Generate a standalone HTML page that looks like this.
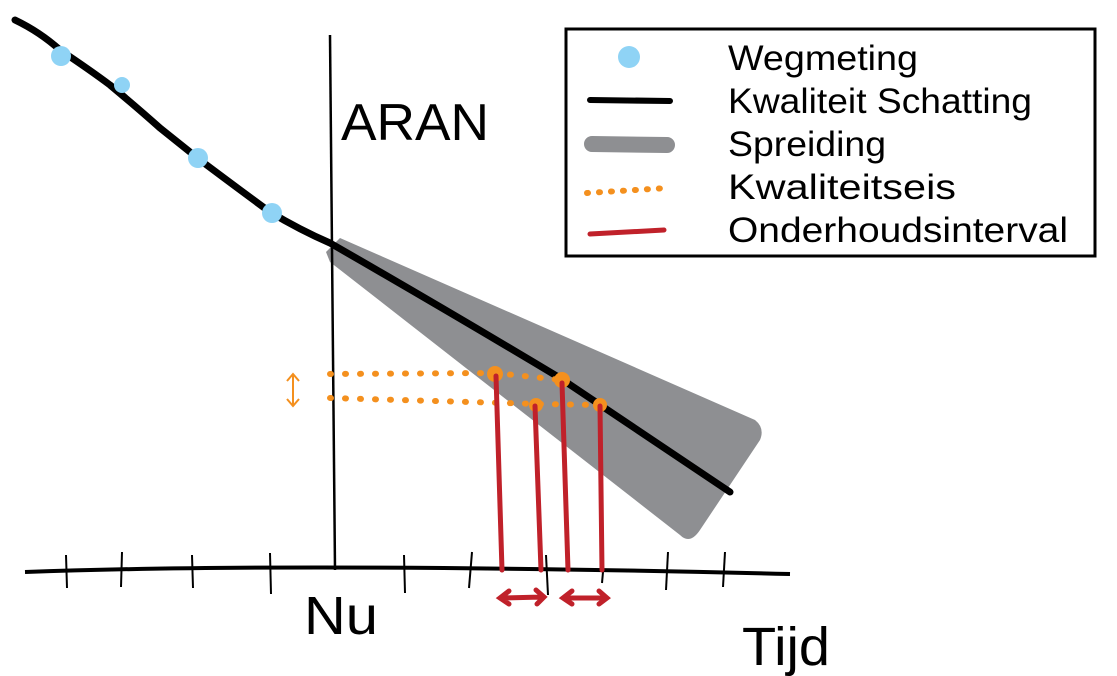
<!DOCTYPE html>
<html><head><meta charset="utf-8"><style>
html,body{margin:0;padding:0;background:#fff;}
svg{display:block}
text{font-family:"Liberation Sans",sans-serif;fill:#000}
</style></head><body>
<svg width="1117" height="676" viewBox="0 0 1117 676" xmlns="http://www.w3.org/2000/svg">
<!-- cone -->
<path d="M326 252 L340 238 L755 420 Q765 428 760 440 L700 530 Q690 545 680 535 L330 262 Z" fill="#8e8f92"/>
<!-- vertical line -->
<line x1="330" y1="35" x2="335" y2="570" stroke="#000" stroke-width="2.5"/>
<!-- axis -->
<path d="M25 572 Q300 562 790 574" stroke="#000" stroke-width="4" fill="none"/>
<g stroke="#000" stroke-width="2">
<line x1="66" y1="555" x2="67" y2="588"/><line x1="122" y1="552" x2="121" y2="587"/>
<line x1="192" y1="555" x2="193" y2="588"/><line x1="270" y1="553" x2="271" y2="594"/>
<line x1="404" y1="555" x2="405" y2="593"/><line x1="472" y1="552" x2="469" y2="588"/>
<line x1="546" y1="555" x2="548" y2="595"/><line x1="603" y1="572" x2="602" y2="583"/>
<line x1="668" y1="552" x2="666" y2="590"/><line x1="725" y1="552" x2="723" y2="587"/>
</g>
<!-- estimate line -->
<path d="M15 20 Q40 32 60 50 Q90 70 110 85 Q140 110 160 128 Q185 148 200 160 Q240 190 270 212 Q300 230 330 243 Q450 312 560 378 L730 492" stroke="#000" stroke-width="7" fill="none" stroke-linecap="round"/>
<g fill="#8fd3f5">
<circle cx="61" cy="56" r="10"/><circle cx="122" cy="85" r="8"/><circle cx="198" cy="158" r="10"/><circle cx="272" cy="213" r="10"/>
</g>
<!-- orange dotted -->
<g stroke="#f4901e" stroke-width="6" stroke-linecap="round" stroke-dasharray="1 14" fill="none">
<path d="M330 374 L495 373 L562 380"/>
<path d="M330 398 L540 404 L600 405"/>
</g>
<g fill="#f4901e">
<circle cx="495" cy="374" r="8"/><circle cx="562" cy="380" r="8"/><circle cx="536" cy="405" r="7"/><circle cx="600" cy="405" r="7"/>
</g>
<path d="M293 375 L293 405 M287 381 L293 374 L299 381 M287 399 L293 406 L299 399" stroke="#f4901e" stroke-width="2" fill="none"/>
<!-- red -->
<g stroke="#c0212a" stroke-width="5" fill="none" stroke-linecap="round">
<path d="M496 376 L502 570"/><path d="M535 406 L541 570"/><path d="M562 383 L568 570"/><path d="M600 406 L602 570"/>
<path d="M500 598 L543 597 M509 591 L500 598 L509 604 M536 590 L544 597 L537 604"/>
<path d="M563 598 L606 598 M572 591 L563 598 L572 604 M599 591 L607 598 L599 604"/>
</g>
<!-- labels -->
<text x="341" y="140" font-size="52" textLength="148" lengthAdjust="spacingAndGlyphs">ARAN</text>
<text x="304" y="634" font-size="54" textLength="74" lengthAdjust="spacingAndGlyphs">Nu</text>
<text x="742" y="665" font-size="54" textLength="88" lengthAdjust="spacingAndGlyphs">Tijd</text>
<!-- legend -->
<rect x="566" y="29" width="529" height="227" fill="#fff" stroke="#000" stroke-width="3"/>
<circle cx="629" cy="57" r="11" fill="#8fd3f5"/>
<line x1="590" y1="100" x2="670" y2="101" stroke="#000" stroke-width="6" stroke-linecap="round"/>
<line x1="592" y1="144" x2="667" y2="145" stroke="#8e8f92" stroke-width="16" stroke-linecap="round"/>
<line x1="587" y1="193" x2="667" y2="188" stroke="#f4901e" stroke-width="6" stroke-linecap="round" stroke-dasharray="1 11"/>
<line x1="590" y1="234" x2="664" y2="230" stroke="#c0212a" stroke-width="5" stroke-linecap="round"/>
<g font-size="35">
<text x="728" y="70" textLength="190" lengthAdjust="spacingAndGlyphs">Wegmeting</text>
<text x="728" y="113" textLength="304" lengthAdjust="spacingAndGlyphs">Kwaliteit Schatting</text>
<text x="728" y="156" textLength="158" lengthAdjust="spacingAndGlyphs">Spreiding</text>
<text x="728" y="199" textLength="228" lengthAdjust="spacingAndGlyphs">Kwaliteitseis</text>
<text x="728" y="242" textLength="340" lengthAdjust="spacingAndGlyphs">Onderhoudsinterval</text>
</g>
</svg>
</body></html>
